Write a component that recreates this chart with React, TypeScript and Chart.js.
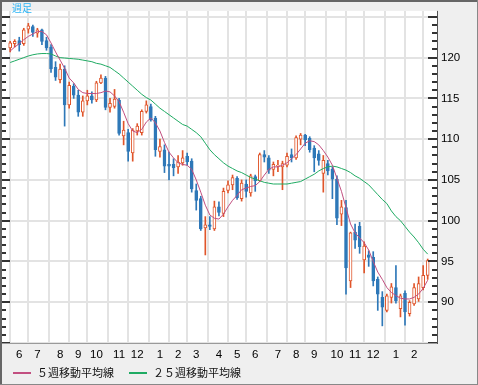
import React, { useEffect, useRef } from 'react';
import { Chart, registerables } from 'chart.js';
Chart.register(...registerables);

// Weekly candles (week start, YY/MM/DD)
const weeks = [
  '07/05/21','07/05/28','07/06/04','07/06/11','07/06/18','07/06/25','07/07/02','07/07/09','07/07/16','07/07/23',
  '07/07/30','07/08/06','07/08/13','07/08/20','07/08/27','07/09/03','07/09/10','07/09/17','07/09/24','07/10/01',
  '07/10/08','07/10/15','07/10/22','07/10/29','07/11/05','07/11/12','07/11/19','07/11/26','07/12/03','07/12/10',
  '07/12/17','07/12/24','07/12/31','08/01/07','08/01/14','08/01/21','08/01/28','08/02/04','08/02/11','08/02/18',
  '08/02/25','08/03/03','08/03/10','08/03/17','08/03/24','08/03/31','08/04/07','08/04/14','08/04/21','08/04/28',
  '08/05/05','08/05/12','08/05/19','08/05/26','08/06/02','08/06/09','08/06/16','08/06/23','08/06/30','08/07/07',
  '08/07/14','08/07/21','08/07/28','08/08/04','08/08/11','08/08/18','08/08/25','08/09/01','08/09/08','08/09/15',
  '08/09/22','08/09/29','08/10/06','08/10/13','08/10/20','08/10/27','08/11/03','08/11/10','08/11/17','08/11/24',
  '08/12/01','08/12/08','08/12/15','08/12/22','08/12/29','09/01/05','09/01/12','09/01/19','09/01/26','09/02/02',
  '09/02/09','09/02/16','09/02/23'
];

const openV = [
  121.2,121.7,122.1,121.7,123.5,123.8,123.0,123.4,122.1,121.3,
  118.8,117.3,118.6,114.2,116.5,115.4,113.3,114.7,115.3,114.8,
  116.9,117.5,113.9,114.0,114.8,110.4,110.8,108.3,111.0,110.8,
  113.4,114.0,112.6,108.5,108.7,106.9,106.9,106.6,107.1,107.9,
  107.3,103.7,102.7,99.1,99.5,99.0,101.7,100.9,103.7,104.4,
  105.2,102.7,104.5,103.4,105.4,104.9,108.1,107.7,106.3,106.7,
  106.6,106.8,108.1,107.7,110.0,110.5,110.1,108.9,108.2,105.8,
  107.0,106.3,105.1,100.8,101.6,92.6,98.6,99.3,95.2,95.8,
  95.5,92.8,90.6,89.0,90.6,91.8,89.2,91.1,88.6,89.8,
  90.4,91.8,93.3
];
const highV = [
  122.0,122.2,122.5,123.6,124.2,124.0,123.6,123.5,122.5,121.6,
  119.5,119.2,119.0,117.0,116.8,116.0,115.3,116.0,115.8,117.1,
  117.9,117.7,115.0,116.1,115.0,112.2,111.2,111.3,111.9,113.6,
  114.7,114.3,112.8,110.0,109.3,108.4,107.6,108.0,108.6,108.3,
  107.6,104.5,103.0,100.5,100.5,102.4,102.3,104.0,104.9,105.6,
  105.4,105.0,105.0,105.7,105.6,108.3,108.6,108.0,107.2,107.4,
  107.3,108.3,108.8,110.4,110.7,110.6,110.3,109.2,108.6,108.0,
  107.4,106.6,105.5,102.5,102.5,98.6,99.6,99.8,97.4,96.3,
  96.2,93.1,91.3,91.0,92.3,94.5,91.0,91.4,90.2,92.3,
  93.1,94.5,95.3
];
const lowV = [
  120.7,121.3,120.8,121.5,123.0,122.6,122.5,121.6,120.9,118.2,
  117.2,116.9,111.6,113.8,115.0,112.8,112.8,114.2,114.4,114.6,
  116.8,113.6,113.3,113.8,110.5,109.3,107.3,107.3,110.5,110.5,
  113.2,112.2,107.9,107.8,105.9,105.0,105.5,105.8,106.8,106.8,
  103.5,101.3,98.8,95.8,98.9,98.8,100.6,100.5,103.4,103.8,
  102.6,102.4,102.9,103.0,103.6,104.8,107.2,105.8,105.5,106.0,
  103.8,106.6,107.2,107.5,109.3,109.2,108.4,106.0,106.8,103.5,
  105.6,102.7,99.5,99.4,91.0,91.8,96.6,96.0,93.6,94.4,
  92.0,89.0,87.1,88.8,89.9,89.9,88.2,87.2,88.3,89.6,
  90.1,91.5,92.8
];
const closeV = [
  121.8,122.0,121.6,123.4,123.9,123.1,123.4,122.0,121.2,118.6,
  117.6,118.6,114.2,116.6,115.4,113.3,114.7,115.3,114.8,116.9,
  117.5,113.9,114.4,114.9,110.7,111.1,108.5,111.1,111.6,113.4,
  114.2,112.4,108.7,109.1,106.7,106.7,106.5,107.2,107.7,107.2,
  103.9,102.5,99.0,99.5,99.3,101.7,101.0,103.6,104.4,105.3,
  102.8,104.6,103.6,105.5,104.9,108.1,107.8,106.2,106.9,106.8,
  107.0,107.9,107.7,110.2,110.5,109.9,108.7,107.7,107.4,107.4,
  106.1,105.1,100.3,101.7,94.2,98.5,97.6,96.8,96.9,95.5,
  92.6,91.0,89.4,90.8,91.9,90.2,90.8,88.8,90.0,91.8,
  92.3,93.3,95.1
];

// Moving averages
const ma5 = [
  120.8,121.3,121.7,122.2,122.6,122.9,123.2,123.2,122.8,121.8,
  120.7,119.7,118.7,117.5,116.9,116.1,115.7,115.6,115.6,115.6,
  115.7,115.9,115.8,115.3,114.6,113.3,111.9,111.0,110.8,111.2,
  112.1,112.6,112.0,111.0,109.6,108.4,107.7,107.1,106.9,106.8,
  106.3,105.0,103.5,101.9,100.7,100.3,100.2,100.8,101.7,102.5,
  103.1,103.8,104.0,104.2,104.3,104.8,105.6,106.3,106.6,106.6,
  106.8,107.1,107.6,108.1,108.8,109.5,109.8,109.7,109.3,108.6,
  107.8,106.8,105.2,103.6,101.6,99.6,98.5,97.9,97.3,96.4,
  95.0,93.7,92.8,91.8,91.2,90.8,90.5,90.4,90.4,90.6,
  91.0,91.7,92.7
];
const ma25 = [
  119.4,119.6,119.8,120.0,120.2,120.35,120.45,120.5,120.5,120.45,
  120.2,120.0,119.95,119.9,119.85,119.8,119.7,119.6,119.5,119.3,
  119.2,119.0,118.8,118.4,118.0,117.5,117.0,116.5,116.0,115.5,
  115.1,114.8,114.3,113.8,113.4,113.0,112.6,112.2,111.8,111.6,
  111.2,110.8,110.3,109.5,108.7,108.1,107.6,107.1,106.7,106.4,
  106.1,105.9,105.6,105.3,105.1,104.9,104.7,104.6,104.5,104.5,
  104.5,104.5,104.6,104.7,104.8,105.1,105.4,105.7,106.1,106.4,
  106.6,106.7,106.6,106.4,106.2,105.9,105.5,105.2,104.8,104.4,
  103.8,103.2,102.6,102.1,101.2,100.5,100.0,99.3,98.6,98.0,
  97.3,96.5,95.9
];

const seriesNames = ['５週移動平均線', '２５週移動平均線'];
const periodLabel = '週足';
const yLabelValues = [90, 95, 100, 105, 110, 115, 120];

const UP = '#e0552a';
const DOWN = '#2e78b8';
const MA5_COLOR = '#c24f80';
const MA25_COLOR = '#1fab63';
const GRID = '#e3e3e3';
const TICK_FONT = { family: 'Liberation Sans', size: 11.5 };

export default function App() {
  const ref = useRef<HTMLCanvasElement>(null);

  useEffect(() => {
    document.body.style.margin = '0';
    const canvas = ref.current;
    if (!canvas) return;

    const idx = weeks.map((_, i) => i);
    const monthTicks: { value: number; label: string }[] = [];
    weeks.forEach((w, i) => {
      if (i === 0) return;
      const m = w.split('/')[1];
      if (m !== weeks[i - 1].split('/')[1]) monthTicks.push({ value: i, label: String(parseInt(m, 10)) });
    });
    const isUp = (i: number) => closeV[i] >= openV[i];

    const framePlugin = {
      id: 'frame',
      beforeDraw(chart: any) {
        const { ctx, chartArea: a } = chart;
        ctx.save();
        ctx.fillStyle = '#efefef';
        ctx.fillRect(0, 0, chart.width, chart.height);
        ctx.fillStyle = '#ffffff';
        ctx.fillRect(a.left, a.top, a.right - a.left, a.bottom - a.top);
        ctx.restore();
      },
      afterDraw(chart: any) {
        const { ctx, chartArea: a } = chart;
        const y = chart.scales.y;
        ctx.save();
        // tick marks on both sides of the plot
        ctx.fillStyle = '#333';
        y.ticks.forEach((t: any) => {
          const py = Math.round(y.getPixelForValue(t.value));
          const major = t.value % 5 === 0;
          const lr = major ? 9 : 5;
          const ll = major ? 8 : 4;
          ctx.fillRect(a.right - lr, py - 1, lr, 2);
          ctx.fillRect(a.left, py - 1, ll, 2);
        });
        // axis / frame lines
        ctx.fillStyle = '#555';
        ctx.fillRect(a.right, a.top, 1, a.bottom - a.top + 1);
        ctx.fillStyle = '#9a9a9a';
        ctx.fillRect(a.left, a.bottom, a.right - a.left, 1);
        ctx.fillStyle = '#666';
        ctx.fillRect(0, 0, chart.width, 2);
        ctx.fillRect(0, 0, 2, chart.height);
        ctx.fillStyle = '#888';
        ctx.fillRect(chart.width - 1, 0, 1, chart.height);
        ctx.fillRect(0, chart.height - 1, chart.width, 1);
        // period label
        ctx.fillStyle = '#2ab4f5';
        ctx.font = '10px "Noto Sans CJK JP"';
        ctx.textBaseline = 'middle';
        ctx.textAlign = 'left';
        ctx.fillText(periodLabel, 12, 8);
        // legend
        ctx.font = '11px "Noto Sans CJK JP"';
        let x = 13;
        const ly = 373;
        chart.data.datasets
          .filter((d: any) => d.type === 'line')
          .forEach((d: any) => {
            ctx.strokeStyle = d.borderColor;
            ctx.lineWidth = 2;
            ctx.beginPath();
            ctx.moveTo(x, ly);
            ctx.lineTo(x + 18, ly);
            ctx.stroke();
            x += 24;
            ctx.fillStyle = '#111';
            ctx.fillText(d.label, x, ly);
            x += ctx.measureText(d.label).width + 15;
          });
        ctx.restore();
      },
    };

    const chart = new Chart(canvas, {
      type: 'bar',
      data: {
        datasets: [
          {
            type: 'line',
            label: seriesNames[0],
            data: idx.map((i) => ({ x: i, y: ma5[i] })),
            borderColor: MA5_COLOR,
            borderWidth: 1,
            pointRadius: 0,
            tension: 0,
            order: 1,
          },
          {
            type: 'line',
            label: seriesNames[1],
            data: idx.map((i) => ({ x: i, y: ma25[i] })),
            borderColor: MA25_COLOR,
            borderWidth: 1,
            pointRadius: 0,
            tension: 0,
            order: 2,
          },
          {
            type: 'bar',
            label: 'body',
            data: idx.map((i) => ({ x: i, y: [openV[i], closeV[i]] })),
            backgroundColor: (c: any) => (isUp(c.dataIndex) ? '#ffffff' : DOWN),
            borderColor: (c: any) => (isUp(c.dataIndex) ? UP : DOWN),
            borderWidth: 1,
            borderSkipped: false,
            barThickness: 3,
            grouped: false,
            order: 3,
          },
          {
            type: 'bar',
            label: 'wick',
            data: idx.map((i) => ({ x: i, y: [lowV[i], highV[i]] })),
            backgroundColor: (c: any) => (isUp(c.dataIndex) ? UP : DOWN),
            borderWidth: 0,
            barThickness: 1,
            grouped: false,
            order: 4,
          },
        ] as any,
      },
      options: {
        animation: false,
        responsive: false,
        devicePixelRatio: 1,
        events: [],
        layout: { padding: { left: 2, top: 2, right: 0, bottom: 0 } },
        plugins: { legend: { display: false }, tooltip: { enabled: false } },
        scales: {
          x: {
            type: 'linear',
            min: -1.8,
            max: 94.05,
            offset: false,
            grid: { color: GRID, lineWidth: 2, drawTicks: false },
            border: { display: false },
            afterBuildTicks: (s: any) => {
              s.ticks = monthTicks.map((t) => ({ value: t.value }));
            },
            ticks: {
              autoSkip: false,
              maxRotation: 0,
              padding: 5,
              color: '#000',
              font: TICK_FONT,
              callback: (v: any) => {
                const t = monthTicks.find((m) => m.value === v);
                return t ? t.label : '';
              },
            },
            afterFit: (s: any) => {
              s.height = 42;
            },
          },
          y: {
            type: 'linear',
            position: 'right',
            min: 85,
            max: 125.73,
            grid: {
              color: (c: any) => (c.tick && c.tick.value % 5 === 0 ? GRID : 'rgba(0,0,0,0)'),
              lineWidth: 2,
              drawTicks: false,
            },
            border: { display: false },
            afterBuildTicks: (s: any) => {
              const t: any[] = [];
              for (let v = Math.ceil(s.min); v <= Math.floor(s.max); v++) t.push({ value: v });
              s.ticks = t;
            },
            ticks: {
              autoSkip: false,
              padding: 4,
              color: '#000',
              font: TICK_FONT,
              callback: (v: any) => (yLabelValues.includes(v) ? String(v) : ''),
            },
            afterFit: (s: any) => {
              s.width = 41;
            },
          },
        },
      } as any,
      plugins: [framePlugin],
    });

    return () => chart.destroy();
  }, []);

  return <canvas ref={ref} width={478} height={385} style={{ display: 'block' }} />;
}
